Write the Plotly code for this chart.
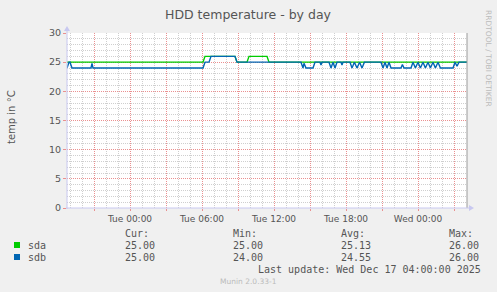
import plotly.graph_objects as go
import pandas as pd

# ---- data ----
sda_times = ["2025-12-15 18:45", "2025-12-16 06:05", "2025-12-16 06:15", "2025-12-16 08:45",
             "2025-12-16 08:55", "2025-12-16 09:45", "2025-12-16 09:55", "2025-12-16 11:25",
             "2025-12-16 11:35", "2025-12-17 04:05"]
sda_vals = [25, 25, 26, 26, 25, 25, 26, 26, 25, 25]

sdb_times = ["2025-12-15 18:45", "2025-12-15 18:55", "2025-12-15 19:00", "2025-12-15 19:10",
             "2025-12-15 20:45", "2025-12-15 20:50", "2025-12-15 20:55",
             "2025-12-16 06:05", "2025-12-16 06:15", "2025-12-16 06:35", "2025-12-16 06:45",
             "2025-12-16 08:45", "2025-12-16 08:55",
             "2025-12-16 14:15", "2025-12-16 14:25", "2025-12-16 14:30", "2025-12-16 14:40",
             "2025-12-16 15:15", "2025-12-16 15:25",
             "2025-12-16 15:50", "2025-12-16 15:55", "2025-12-16 16:00",
             "2025-12-16 16:35", "2025-12-16 16:45", "2025-12-16 16:55", "2025-12-16 17:05",
             "2025-12-16 17:15", "2025-12-16 17:35", "2025-12-16 17:40", "2025-12-16 17:45",
             "2025-12-16 18:20", "2025-12-16 18:30", "2025-12-16 18:42", "2025-12-16 18:55",
             "2025-12-16 19:08", "2025-12-16 19:20", "2025-12-16 19:32",
             "2025-12-16 20:55", "2025-12-16 21:05", "2025-12-16 21:15", "2025-12-16 21:25",
             "2025-12-16 21:35", "2025-12-16 21:45", "2025-12-16 21:55",
             "2025-12-16 22:35", "2025-12-16 22:42", "2025-12-16 22:50", "2025-12-16 23:25",
             "2025-12-16 23:35", "2025-12-16 23:47", "2025-12-17 00:00", "2025-12-17 00:12",
             "2025-12-17 00:25", "2025-12-17 00:37", "2025-12-17 00:50", "2025-12-17 01:02",
             "2025-12-17 01:15", "2025-12-17 01:27", "2025-12-17 01:40", "2025-12-17 01:52",
             "2025-12-17 02:05", "2025-12-17 02:15", "2025-12-17 02:55", "2025-12-17 03:05",
             "2025-12-17 03:15", "2025-12-17 03:25", "2025-12-17 04:05"]
sdb_vals = [24, 25, 25, 24,
            24, 24.8, 24,
            24, 25, 25, 26,
            26, 25,
            25, 24, 24.8, 24,
            24, 25,
            25, 24.5, 25,
            25, 24, 25, 24,
            25, 25, 24.5, 25,
            25, 24, 25, 24,
            25, 24, 25,
            25, 24, 25, 24,
            25, 24, 24,
            24, 24.6, 24, 24,
            25, 24, 25, 24,
            25, 24, 25, 24,
            25, 24, 25, 24,
            24, 24, 24, 25,
            24.3, 25, 25]

series_names = ["sda", "sdb"]
series_colors = ["#00CC00", "#0066B3"]
stat_cur = ["25.00", "25.00"]
stat_min = ["25.00", "24.00"]
stat_avg = ["25.13", "24.55"]
stat_max = ["26.00", "26.00"]

x_start = "2025-12-15 18:45"
x_end = "2025-12-17 04:05"
tick_times = pd.date_range("2025-12-15 21:00", "2025-12-17 03:00", freq="3h")
tick_text = [t.strftime("%a %H:%M") if t.hour % 6 == 0 else "" for t in tick_times]

# ---- figure ----
W, H = 497, 292
L, R, T, B = 67, 30, 33, 84
PW, PH = W - L - R, H - T - B


def px(x):
    return (x - L) / PW


def py(y):
    return (H - B - y) / PH


fig = go.Figure()
fig.add_trace(go.Scatter(x=pd.to_datetime(sda_times), y=sda_vals, mode="lines",
                         line=dict(color=series_colors[0], width=1.4), name="sda"))
fig.add_trace(go.Scatter(x=pd.to_datetime(sdb_times), y=sdb_vals, mode="lines",
                         line=dict(color=series_colors[1], width=1.4), name="sdb"))

major_c = "#EA9090"
minor_c = "#CFCFCF"
axis_c = "#C8C8F0"
text_c = "#555555"

fig.update_layout(
    width=W, height=H,
    margin=dict(l=L, r=R, t=T, b=B, autoexpand=False),
    paper_bgcolor="#F0F0F0", plot_bgcolor="#FFFFFF",
    showlegend=False,
    font=dict(family="DejaVu Sans", color=text_c, size=9),
    xaxis=dict(
        range=[x_start, x_end], type="date",
        tickmode="array", tickvals=tick_times, ticktext=tick_text,
        showgrid=True, gridcolor=major_c, griddash="1px,1px", gridwidth=1,
        ticks="outside", ticklen=2, tickcolor=major_c,
        minor=dict(tickmode="linear", tick0="2025-12-16", dtick=3600000,
                   showgrid=True, gridcolor=minor_c, griddash="1px,1px", gridwidth=1, ticks=""),
        showline=False, zeroline=False, fixedrange=True, automargin=False,
        tickfont=dict(size=9, color=text_c),
    ),
    yaxis=dict(
        range=[0, 30], tickmode="linear", tick0=0, dtick=5,
        showgrid=True, gridcolor=major_c, griddash="1px,1px", gridwidth=1,
        ticks="outside", ticklen=3, tickcolor=major_c,
        minor=dict(tickmode="linear", tick0=0, dtick=1,
                   showgrid=True, gridcolor=minor_c, griddash="1px,1px", gridwidth=1, ticks=""),
        showline=False, zeroline=False, automargin=False,
        tickfont=dict(size=9.5, color=text_c),
    ),
)

shapes = []
# right frame line
shapes.append(dict(type="line", xref="paper", yref="paper", x0=px(467), x1=px(467),
                   y0=py(33), y1=py(208), line=dict(color="#9A9A9A", width=1)))
# x axis line + arrow
shapes.append(dict(type="line", xref="paper", yref="paper", x0=px(66), x1=px(471),
                   y0=py(208), y1=py(208), line=dict(color=axis_c, width=1)))
shapes.append(dict(type="path", xref="paper", yref="paper",
                   path=f"M {px(469)} {py(205)} L {px(474)} {py(208)} L {px(469)} {py(211)} Z",
                   fillcolor=axis_c, line=dict(color=axis_c, width=0)))
# y axis line + arrow
shapes.append(dict(type="line", xref="paper", yref="paper", x0=px(67), x1=px(67),
                   y0=py(209), y1=py(29), line=dict(color=axis_c, width=1)))
shapes.append(dict(type="path", xref="paper", yref="paper",
                   path=f"M {px(64)} {py(31)} L {px(67)} {py(26)} L {px(70)} {py(31)} Z",
                   fillcolor=axis_c, line=dict(color=axis_c, width=0)))
# legend swatches
for i, c in enumerate(series_colors):
    yc = 245 + 12 * i
    shapes.append(dict(type="rect", xref="paper", yref="paper",
                       x0=px(14), x1=px(20), y0=py(yc - 3), y1=py(yc + 3),
                       fillcolor=c, line=dict(width=0)))
fig.update_layout(shapes=shapes)

mono = dict(family="DejaVu Sans Mono", size=10, color=text_c)
ann = []
ann.append(dict(text="HDD temperature - by day", x=px(248), y=py(14), xref="paper", yref="paper",
                showarrow=False, xanchor="center", yanchor="middle",
                font=dict(family="DejaVu Sans", size=12.5, color=text_c)))
ann.append(dict(text="temp in °C", x=px(11), y=py(117), xref="paper", yref="paper",
                showarrow=False, xanchor="center", yanchor="middle", textangle=-90,
                font=dict(family="DejaVu Sans", size=10, color=text_c)))
ann.append(dict(text="RRDTOOL / TOBI OETIKER", x=px(489), y=py(58), xref="paper", yref="paper",
                showarrow=False, xanchor="center", yanchor="middle", textangle=90,
                font=dict(family="DejaVu Sans", size=7.5, color="#BBBBBB")))
cols = [(123, "Cur:", stat_cur), (231, "Min:", stat_min), (339, "Avg:", stat_avg), (447, "Max:", stat_max)]
for x0, hdr, vals in cols:
    ann.append(dict(text=hdr, x=px(x0), y=py(233), xref="paper", yref="paper", showarrow=False,
                    xanchor="left", yanchor="middle", font=mono))
    for i, v in enumerate(vals):
        ann.append(dict(text=v, x=px(x0), y=py(245 + 12 * i), xref="paper", yref="paper",
                        showarrow=False, xanchor="left", yanchor="middle", font=mono))
for i, n in enumerate(series_names):
    ann.append(dict(text=n, x=px(26), y=py(245 + 12 * i), xref="paper", yref="paper",
                    showarrow=False, xanchor="left", yanchor="middle", font=mono))
ann.append(dict(text="Last update: Wed Dec 17 04:00:00 2025", x=px(483), y=py(269),
                xref="paper", yref="paper", showarrow=False, xanchor="right", yanchor="middle",
                font=mono))
ann.append(dict(text="Munin 2.0.33-1", x=px(248), y=py(281), xref="paper", yref="paper",
                showarrow=False, xanchor="center", yanchor="middle",
                font=dict(family="DejaVu Sans", size=7.5, color="#BBBBBB")))
fig.update_layout(annotations=ann)

fig.write_html("out.html")
